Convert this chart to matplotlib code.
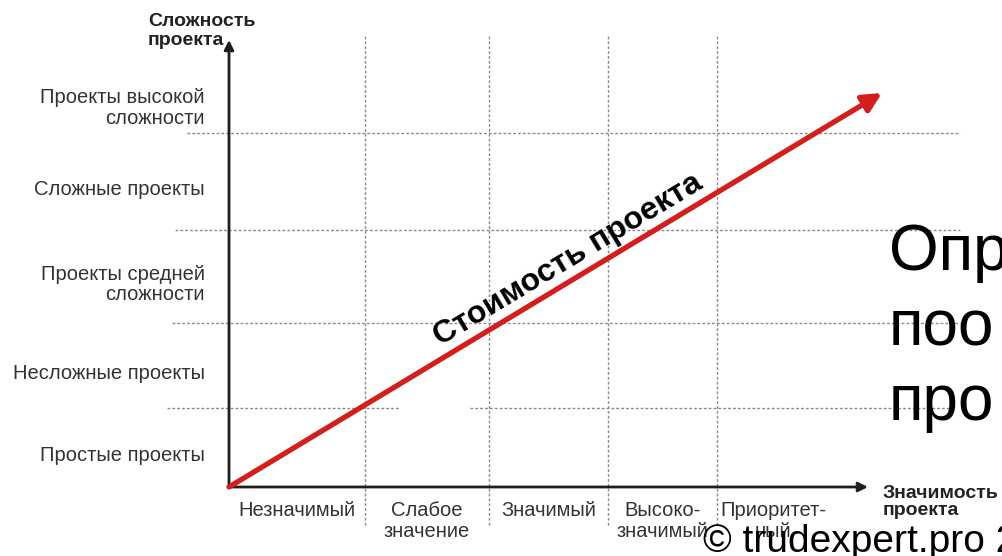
import matplotlib
matplotlib.use('Agg')
import matplotlib.pyplot as plt
from matplotlib.patches import FancyArrowPatch

plt.rcParams['font.family'] = ['Liberation Sans', 'DejaVu Sans']

# --- данные диаграммы (единицы: пиксели от начала координат) ---
complexity_levels = ['Простые проекты', 'Несложные проекты', 'Проекты средней\nсложности',
                     'Сложные проекты', 'Проекты высокой\nсложности']
complexity_edges = [0, 79, 164, 257, 354, 420]
significance_levels = ['Незначимый', 'Слабое\nзначение', 'Значимый', 'Высоко-\nзначимый', 'Приоритет-\nный']
significance_edges = [0, 136, 260, 379, 488, 600]
cost_x = [0, 653]
cost_y = [0, 394]
axis_end_x = 639
axis_end_y = 447
slide_lines = ['Опр', 'поо', 'про']
copyright_text = '© trudexpert.pro 2'

fig = plt.figure(figsize=(10.03, 5.56), dpi=100)
ax = fig.add_axes([0, 0, 1, 1])
ax.set_xlim(-229, 774)
ax.set_ylim(-69, 487)
ax.axis('off')

grid_kw = dict(color='#8a8a8a', linewidth=1.0, linestyle=(0, (2, 1.5)), zorder=1)

# вертикальные пунктиры
for e in significance_edges[1:-1]:
    ax.plot([e, e], [-38, 452], **grid_kw)

# горизонтальные пунктиры
h_start = [-62, -57, -54, -42]
for i, e in enumerate(complexity_edges[1:-1]):
    if i == 0:
        ax.plot([h_start[i], 171], [e, e], **grid_kw)
        ax.plot([241, 721], [e, e], **grid_kw)
    else:
        ax.plot([h_start[i], 731], [e, e], **grid_kw)

# оси со стрелками
for xy in [(axis_end_x, 0), (0, axis_end_y)]:
    ax.add_patch(FancyArrowPatch((0, 0), xy, arrowstyle='-|>', mutation_scale=14,
                                 color='#1e1e1e', linewidth=2.0, shrinkA=0, shrinkB=0, zorder=3))

# красная стрелка стоимости
ax.add_patch(FancyArrowPatch((cost_x[0], cost_y[0]), (cost_x[1], cost_y[1]), arrowstyle='-|>',
                             mutation_scale=28, color='#d41e1e', linewidth=3.8,
                             shrinkA=0, shrinkB=0, zorder=4))
ax.text(339, 227, 'Стоимость проекта', rotation=31, rotation_mode='anchor',
        ha='center', va='center', fontsize=23, fontweight='bold', color='black', zorder=5)

# подписи уровней сложности
for i, lbl in enumerate(complexity_levels):
    mid = (complexity_edges[i] + complexity_edges[i + 1]) / 2 - 8
    ax.text(-24, mid, lbl, ha='right', va='center', fontsize=14.5, color='#333333',
            linespacing=1.1)

# подписи значимости
for i, lbl in enumerate(significance_levels):
    mid = (significance_edges[i] + significance_edges[i + 1]) / 2
    ax.text(mid, -14, lbl, ha='center', va='top', fontsize=14.5, color='#333333',
            linespacing=1.15)

# названия осей
ax.text(-81, 474, 'Сложность\nпроекта', ha='left', va='top', fontsize=14,
        fontweight='bold', color='#222222', linespacing=1.15)
ax.text(654, -15, 'Значимость\nпроекта', ha='left', va='center', fontsize=14,
        fontweight='bold', color='#222222', linespacing=1.05)

# текст слайда поверх
for i, line in enumerate(slide_lines):
    ax.text(660, 217 - 75 * i, line, ha='left', va='baseline', fontsize=46, color='black', zorder=6)
ax.text(474, -65, copyright_text, ha='left', va='baseline', fontsize=28, color='black', zorder=6)

fig.savefig('out.png', dpi=100, facecolor='white')
